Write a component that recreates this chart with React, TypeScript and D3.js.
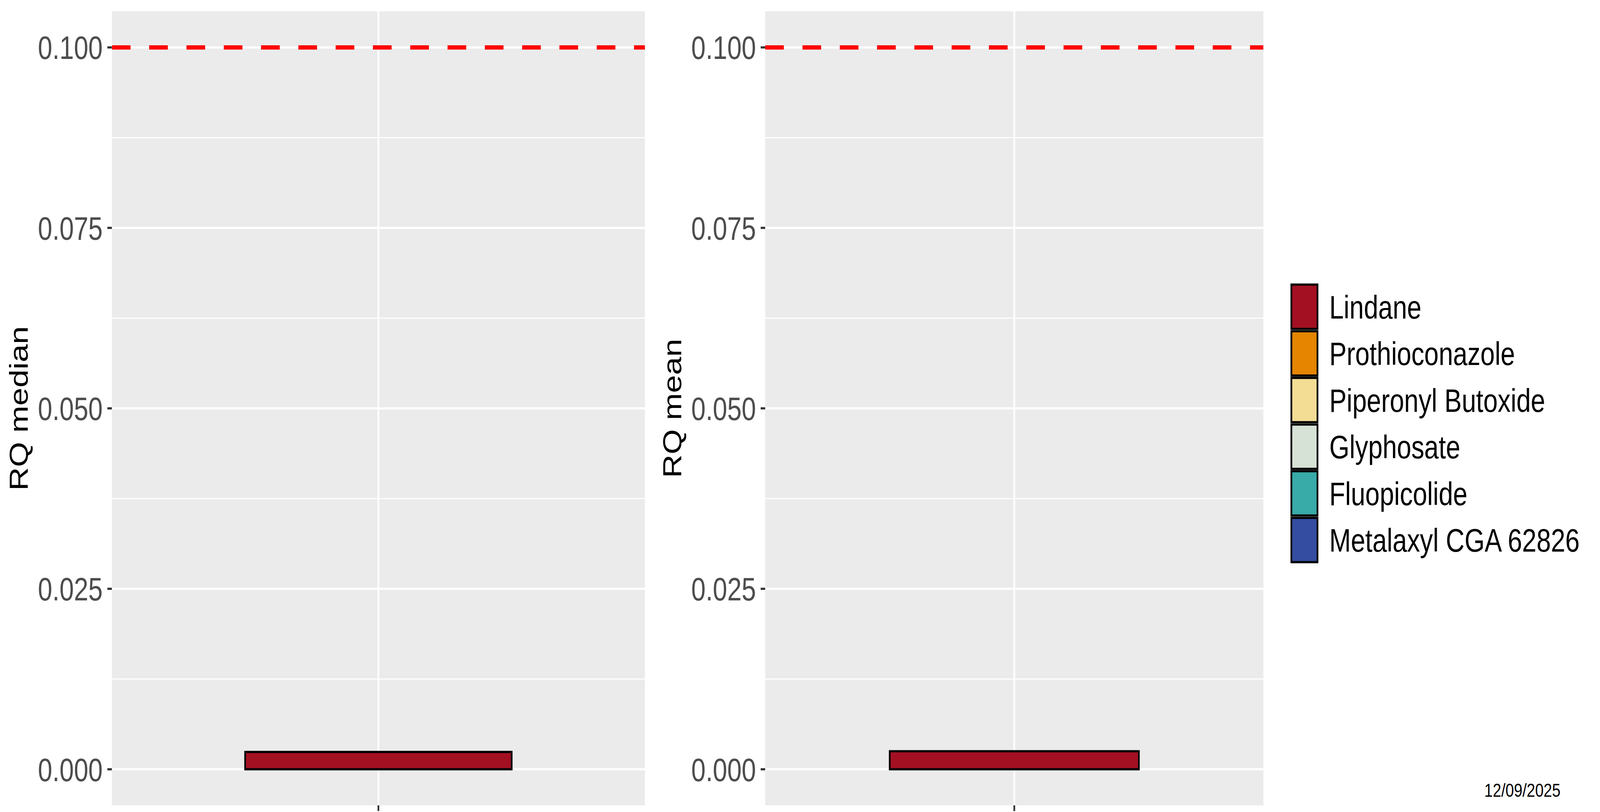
import React from 'react';
import * as d3 from 'd3';

const substances = ['Lindane', 'Prothioconazole', 'Piperonyl Butoxide', 'Glyphosate', 'Fluopicolide', 'Metalaxyl CGA 62826'];
const substanceColors = ['#A31022', '#E58500', '#F3DD94', '#D7E2D6', '#38AAA7', '#344DA0'];
const categories = [''];
const medianSubstance = ['Lindane'];
const medianValues = [0.0024];
const meanSubstance = ['Lindane'];
const meanValues = [0.0025];
const yTicks = [0, 0.025, 0.05, 0.075, 0.1];
const yMinor = [0.0125, 0.0375, 0.0625, 0.0875];
const threshold = 0.1;
const panelTitles = ['RQ median', 'RQ mean'];
const dateLabel = '12/09/2025';

const W = 5148;
const H = 2080;
const FONT = "'Liberation Sans', Arial, sans-serif";
const TOP = 29;
const BOTTOM = 2063;

type PanelProps = {
  x0: number;
  x1: number;
  title: string;
  titleX: number;
  names: string[];
  values: number[];
  id: string;
};

const color = d3.scaleOrdinal<string, string>().domain(substances).range(substanceColors);

function Panel({ x0, x1, title, titleX, names, values, id }: PanelProps) {
  const y = d3.scaleLinear().domain([-0.005, 0.105]).range([BOTTOM, TOP]);
  const x = d3.scaleLinear().domain([0.4, categories.length + 0.6]).range([x0, x1]);
  const barW = 0.6;
  const fmt = d3.format('.3f');
  let cum = 0;
  const bars = names.map((n, i) => {
    const b = { name: n, lo: cum, hi: cum + values[i] };
    cum += values[i];
    return b;
  });
  return (
    <g>
      <defs>
        <clipPath id={id}>
          <rect x={x0} y={TOP} width={x1 - x0} height={BOTTOM - TOP} />
        </clipPath>
      </defs>
      <rect x={x0} y={TOP} width={x1 - x0} height={BOTTOM - TOP} fill="#EBEBEB" />
      {yMinor.map((t) => (
        <line key={'m' + t} x1={x0} x2={x1} y1={y(t)} y2={y(t)} stroke="#FFFFFF" strokeWidth={2.8} />
      ))}
      {yTicks.map((t) => (
        <line key={'g' + t} x1={x0} x2={x1} y1={y(t)} y2={y(t)} stroke="#FFFFFF" strokeWidth={5.6} />
      ))}
      {categories.map((c, i) => (
        <line key={'v' + i} x1={x(i + 1)} x2={x(i + 1)} y1={TOP} y2={BOTTOM} stroke="#FFFFFF" strokeWidth={5.6} />
      ))}
      <g clipPath={`url(#${id})`}>
        {bars.map((b) => (
          <rect
            key={b.name}
            x={x(1 - barW / 2)}
            width={x(1 + barW / 2) - x(1 - barW / 2)}
            y={y(b.hi)}
            height={y(b.lo) - y(b.hi)}
            fill={color(b.name)}
            stroke="#000000"
            strokeWidth={5.6}
          />
        ))}
        <line
          x1={x0}
          x2={x1}
          y1={y(threshold)}
          y2={y(threshold)}
          stroke="#FF0000"
          strokeWidth={11}
          strokeDasharray="60 60"
        />
      </g>
      {yTicks.map((t) => (
        <g key={'t' + t}>
          <line x1={x0 - 14.5} x2={x0} y1={y(t)} y2={y(t)} stroke="#333333" strokeWidth={5.6} />
          <text
            x={x0 - 29.5}
            y={y(t) + 30}
            textAnchor="end"
            fontFamily={FONT}
            fontSize={83.3}
            fill="#4D4D4D"
          >
            {fmt(t)}
          </text>
        </g>
      ))}
      {categories.map((c, i) => (
        <line key={'xt' + i} x1={x(i + 1)} x2={x(i + 1)} y1={BOTTOM} y2={BOTTOM + 14.5} stroke="#333333" strokeWidth={5.6} />
      ))}
      <text
        transform={`translate(${titleX},${(TOP + BOTTOM) / 2}) rotate(-90)`}
        textAnchor="middle"
        fontFamily={FONT}
        fontSize={83.3}
        fill="#000000"
      >
        {title}
      </text>
    </g>
  );
}

export default function App() {
  const keyTop = 726;
  const keyH = 119.5;
  const keyX = 4152;
  const keyW = 90;
  return (
    <svg
      viewBox={`0 0 ${W} ${H}`}
      preserveAspectRatio="none"
      style={{
        position: 'absolute',
        left: 0,
        top: 0,
        width: '100vw',
        height: '100vh',
        display: 'block',
        background: '#FFFFFF',
      }}
    >
      <rect x={0} y={0} width={W} height={H} fill="#FFFFFF" />
      <Panel x0={360} x1={2075} title={panelTitles[0]} titleX={89} names={medianSubstance} values={medianValues} id="clipA" />
      <Panel x0={2462} x1={4065} title={panelTitles[1]} titleX={2192} names={meanSubstance} values={meanValues} id="clipB" />
      <g>
        {substances.map((s, i) => {
          const ky = keyTop + i * keyH;
          return (
            <g key={s}>
              <rect x={keyX} y={ky} width={keyW} height={keyH} fill="#EBEBEB" />
              <rect
                x={keyX + 3}
                y={ky + 3}
                width={keyW - 6}
                height={keyH - 6}
                fill={color(s)}
                stroke="#000000"
                strokeWidth={5.6}
              />
              <text x={4277} y={ky + keyH / 2 + 30} fontFamily={FONT} fontSize={83.3} fill="#000000">
                {s}
              </text>
            </g>
          );
        })}
      </g>
      <text x={5021} y={2041} textAnchor="end" fontFamily={FONT} fontSize={49} fill="#000000">
        {dateLabel}
      </text>
    </svg>
  );
}
